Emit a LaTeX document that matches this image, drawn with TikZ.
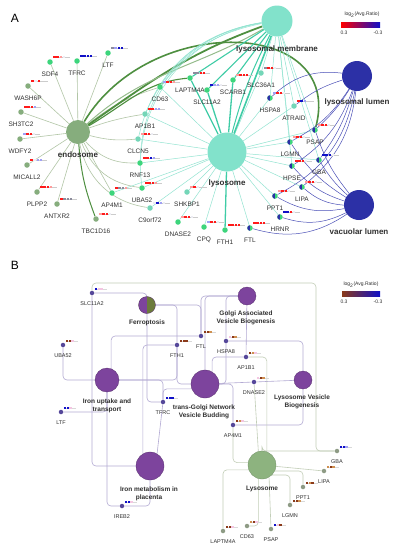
\documentclass[tikz,border=0pt]{standalone}
\usepackage{fontspec}
\setmainfont{Liberation Sans}
\usetikzlibrary{calc}
\pgfdeclarelayer{edges}
\pgfsetlayers{edges,main}
\definecolor{Turq}{HTML}{82E2CB}
\definecolor{TurqEdge}{HTML}{93E4D1}
\definecolor{TurqDark}{HTML}{3FCCA6}
\definecolor{Navy}{HTML}{2C30A6}
\definecolor{NavyEdge}{HTML}{4B50B8}
\definecolor{Sage}{HTML}{86AD7D}
\definecolor{SageEdge}{HTML}{B2C6A6}
\definecolor{DarkGreen}{HTML}{4E8F40}
\definecolor{GeneGreen}{HTML}{3DD57C}
\definecolor{GeneTeal}{HTML}{74D6B8}
\definecolor{Purple}{HTML}{7D449D}
\definecolor{Olive}{HTML}{6C7B3C}
\definecolor{GenePurple}{HTML}{55479A}
\definecolor{GeneGrey}{HTML}{8E9B85}
\definecolor{LysoGreen}{HTML}{8DB37F}
\definecolor{PurpleEdge}{HTML}{B3AAD3}
\definecolor{GreyEdge}{HTML}{C2CEB8}
\definecolor{DarkText}{HTML}{303030}
\definecolor{cR}{HTML}{FF1A1A}
\definecolor{cP}{HTML}{FF9C9C}
\definecolor{cW}{HTML}{EDEDF4}
\definecolor{cL}{HTML}{A0A0F4}
\definecolor{cB}{HTML}{1010C8}
\definecolor{cG}{HTML}{8C8C9C}
\definecolor{cBr}{HTML}{8B3A1A}
\definecolor{cT}{HTML}{CF9050}
\definecolor{cK}{HTML}{F4C6E2}
\tikzset{
  term/.style={circle, inner sep=0pt},
  gene/.style={circle, inner sep=0pt, minimum size=5.5pt},
  ggene/.style={gene, fill=GeneGreen},
  tgene/.style={gene, fill=GeneTeal},
  sgene/.style={gene, fill=Sage},
  pie/.style={gene, fill=GeneGreen, path picture={\fill[Navy] (path picture bounding box.north west) rectangle (path picture bounding box.south);}},
  pgene/.style={gene, minimum size=4.5pt, fill=GenePurple},
  ygene/.style={gene, minimum size=4.5pt, fill=GeneGrey},
  lab/.style={font=\fontsize{6.5}{7}\selectfont, text=DarkText, inner sep=0pt},
  blab/.style={font=\fontsize{5.5}{6}\selectfont, text=DarkText, inner sep=0pt},
  tlab/.style={font=\fontsize{8}{9}\selectfont\bfseries, text=DarkText, inner sep=0pt},
  btlab/.style={font=\fontsize{6.5}{8.3}\selectfont\bfseries, text=DarkText, inner sep=0pt, align=center},
  leg/.style={font=\fontsize{5}{6}\selectfont, text=DarkText, inner sep=0pt},
  panel/.style={font=\fontsize{12}{14}\selectfont, inner sep=0pt},
  tedge/.style={draw=TurqEdge, line width=0.5pt},
  sedge/.style={draw=SageEdge, line width=0.6pt},
  dgedge/.style={draw=DarkGreen, line width=1.5pt},
  nedge/.style={draw=NavyEdge, line width=0.5pt},
  bedge/.style={draw=PurpleEdge, line width=0.6pt, rounded corners=4pt},
  gedge/.style={draw=GreyEdge, line width=0.6pt, rounded corners=4pt}
}
\newcommand{\hmap}[2]{%
  \draw[black!20, line width=0.3pt] ($(#1)+(3.2,-5.2)$) -- ++(17,0);
  \foreach \col [count=\idx] in {#2}
    \fill[\col] ($(#1)+(\idx*3.2,-6.5)$) rectangle ++(2.6,2.6);
}
\newcommand{\hmapb}[2]{%
  \draw[black!15, line width=0.3pt] ($(#1)+(2.8,-3.9)$) -- ++(12,0);
  \foreach \col [count=\idx] in {#2}
    \fill[\col] ($(#1)+(\idx*2.8,-5)$) rectangle ++(2.2,2.2);
}

\begin{document}
\begin{tikzpicture}[x=1pt,y=-1pt]
\begin{pgfonlayer}{edges}
\fill[white] (0,0) rectangle (395,550);
\end{pgfonlayer}
\useasboundingbox (0,0) rectangle (395,550);

% panel A
\node[panel] (pa) at (15,18) {A};
\node[term, fill=Turq, minimum size=31pt] (lysomem) at (277,21) {};
\node[term, fill=Navy, minimum size=30pt] (lyslum) at (357,76) {};
\node[term, fill=Navy, minimum size=30pt] (vaclum) at (359,205) {};
\node[term, fill=Turq, minimum size=39pt] (lyso) at (227,152) {};
\node[term, fill=Sage, minimum size=24pt] (endo) at (78,132) {};
\node[tlab] (lysomem-t) at (277,49) {lysosomal membrane};
\node[tlab] (lyslum-t) at (357,102) {lysosomal lumen};
\node[tlab] (vaclum-t) at (359,232) {vacuolar lumen};
\node[tlab] (lyso-t) at (227,183) {lysosome};
\node[tlab] (endo-t) at (78,155) {endosome};

\foreach \n/\x/\y/\t/\s in {sdf/50/62/SDF4/ggene, tfrc/77/61/TFRC/ggene, ltf/108/53/LTF/ggene,
  wash/28/86/WASH6P/sgene, sh3/21/112/SH3TC2/sgene, wdfy/20/139/WDFY2/sgene,
  mical/27/165/MICALL2/sgene, plpp/37/192/PLPP2/sgene, antx/57/204/ANTXR2/sgene,
  tbc/96/219/TBC1D16/sgene, ap4/112/193/AP4M1/ggene, cd63/160/87/CD63/ggene,
  ap1b1/145/114/AP1B1/tgene, clcn5/138/139/CLCN5/tgene, rnf13/140/163/RNF13/ggene,
  uba52/142/188/UBA52/ggene, c9/150/208/C9orf72/tgene, shkbp1/187/192/SHKBP1/tgene,
  dnase/178/222/DNASE2/ggene, cpq/204/227/CPQ/ggene, fth1/225/230/FTH1/ggene,
  ftl/250/228/FTL/pie, laptm/190/78/LAPTM4A/ggene, slc11/207/90/SLC11A2/ggene,
  scarb/233/80/SCARB1/ggene, slc36/261/73/SLC36A1/tgene, hspa8/270/98/HSPA8/pie,
  atraid/294/106/ATRAID/tgene, psap/315/130/PSAP/pie, lgmn/290/142/LGMN/pie,
  hpse/292/166/HPSE/pie, gba/319/160/GBA/pie, lipa/302/187/LIPA/pie,
  ppt1/275/196/PPT1/pie, hrnr/280/217/HRNR/pie}{
  \node[\s] (\n) at (\x,\y) {};
  \node[lab] (\n-t) at (\x,\y+12.5) {\t};
}

\begin{pgfonlayer}{edges}
\foreach \g in {sdf,tfrc,ltf,wash,sh3,wdfy,mical,plpp,antx,ap4}
  \draw[sedge] (endo) -- (\g);
\foreach \g/\b in {cd63/10,ap1b1/5,clcn5/-10,rnf13/-25,uba52/-30,c9/-35}
  \draw[sedge] (endo) to[bend left=\b] (\g);
\draw[dgedge, line width=1pt] (endo) to[bend right=8] (tbc);
\draw[dgedge, line width=1.8pt] (endo) to[out=35,in=200] (lysomem);
\draw[dgedge, draw=DarkGreen!60, line width=1pt] (endo) to[out=42,in=210] (lysomem);
\draw[dgedge, line width=1.1pt] (endo) to[out=30,in=185] (laptm);
\draw[dgedge, line width=1.6pt] (endo) .. controls (150,12) and (345,18) .. (psap);
\foreach \g in {cd63,ap1b1,clcn5,rnf13,uba52,c9,shkbp1,dnase,cpq,ftl,hrnr,ppt1,lipa,hpse,lgmn,psap,gba,atraid,hspa8,slc36,ap4}
  \draw[tedge] (lyso) -- (\g);
\foreach \g in {laptm,slc11,scarb,fth1}
  \draw[tedge, draw=TurqDark, line width=1.3pt] (lyso) -- (\g);
\draw[tedge, draw=TurqDark, line width=1.6pt] (lysomem) -- (lyso);
\draw[tedge, draw=TurqDark, line width=1pt] (lysomem) to[bend right=6] (lyso);
\foreach \g in {laptm,slc11,scarb}
  \draw[tedge, draw=TurqDark, line width=1.1pt] (lysomem) -- (\g);
\foreach \g in {slc36,hspa8,atraid,psap,lgmn,hpse,gba}
  \draw[tedge] (lysomem) -- (\g);
\foreach \g/\b in {cd63/20,ap1b1/28,clcn5/34,rnf13/40,uba52/44}
  \draw[tedge] (lysomem) to[bend right=\b] (\g);
\foreach \g/\b in {psap/10,lgmn/12,gba/8,hpse/15,lipa/18,ppt1/20,hrnr/22,ftl/25}
  \draw[nedge] (vaclum) to[bend left=\b] (\g);
\foreach \g/\b in {psap/8,lgmn/14,gba/10,hpse/18,lipa/22,ppt1/26}
  \draw[nedge] (lyslum) to[bend left=\b] (\g);
\draw[nedge] (lyslum) to[bend right=25] (hspa8);
\draw[nedge] (lyslum) to[bend right=10] (atraid);
\end{pgfonlayer}

\hmap{sdf}{cR,cR,cP,cW}
\hmap{tfrc}{cB,cB,cB,cB}
\hmap{ltf}{cG,cL,cB,cB}
\hmap{wash}{cR,cW,cR}
\hmap{sh3}{cR,cR,cR,cL}
\hmap{wdfy}{cL,cR,cR,cW}
\hmap{mical}{cR,cW,cL,cL}
\hmap{plpp}{cR,cR,cR,cP}
\hmap{antx}{cR,cG,cG,cG}
\hmap{tbc}{cP,cR,cR,cW}
\hmap{ap4}{cR,cG,cG,cP}
\hmap{cd63}{cL,cR,cR,cP}
\hmap{ap1b1}{cR,cR,cL,cL}
\hmap{clcn5}{cP,cR,cR,cW}
\hmap{rnf13}{cR,cR,cB,cL}
\hmap{uba52}{cR,cR,cR,cP}
\hmap{c9}{cW,cB,cL,cW}
\hmap{shkbp1}{cP,cR,cW}
\hmap{dnase}{cP,cR,cR,cW}
\hmap{cpq}{cL,cR,cR,cW}
\hmap{fth1}{cR,cR,cR,cR}
\hmap{ftl}{cR,cR,cR,cR}
\hmap{laptm}{cG,cG,cR,cR}
\hmap{slc11}{cB,cL,cL,cW}
\hmap{scarb}{cP,cR,cR,cR}
\hmap{slc36}{cG,cR,cR,cW}
\hmap{hspa8}{cL,cR,cR,cW}
\hmap{atraid}{cR,cB,cL}
\hmap{psap}{cP,cR,cR,cW}
\hmap{lgmn}{cP,cR,cR,cW}
\hmap{hpse}{cR,cR,cR,cW}
\hmap{gba}{cB,cB,cB,cW}
\hmap{lipa}{cP,cR,cR,cW}
\hmap{ppt1}{cP,cR,cR,cW}
\hmap{hrnr}{cB,cB,cR,cW}

\node[leg] (lega) at (362,15) {log\textsubscript{2}(Avg.Ratio)};
\node[inner sep=0pt, minimum width=39pt, minimum height=5pt, left color=red, middle color=white, right color=cB] (bara) at (360.5,24.5) {};
\node[leg] (lega-lo) at (344,33) {0.3};
\node[leg] (lega-hi) at (378,33) {-0.3};

% panel B
\node[panel] (pb) at (15,265) {B};
\node[term, minimum size=17pt, fill=Olive, draw=Purple!70!black, line width=0.3pt,
  path picture={\fill[Purple] (path picture bounding box.north west) rectangle (path picture bounding box.south);}] (bferro) at (147,305) {};
\foreach \n/\x/\y/\d in {bgolgi/247/296/18, biron1/107/380/24, btgn/205/384/28, blvb/303/380/18, biron2/150/466/28}
  \node[term, fill=Purple, draw=Purple!70!black, line width=0.3pt, minimum size=\d pt] (\n) at (\x,\y) {};
\node[term, fill=LysoGreen, draw=LysoGreen!80!black, line width=0.3pt, minimum size=28pt] (blyso) at (262,465) {};
\node[btlab] (bferro-t) at (147,323) {Ferroptosis};
\node[btlab] (bgolgi-t) at (246,318) {Golgi Associated\\Vesicle Biogenesis};
\node[btlab] (biron1-t) at (107,406) {Iron uptake and\\transport};
\node[btlab] (btgn-t) at (204,412) {trans-Golgi Network\\Vesicle Budding};
\node[btlab] (blvb-t) at (302,402) {Lysosome Vesicle\\Biogenesis};
\node[btlab] (biron2-t) at (149,494) {Iron metabolism in\\placenta};
\node[btlab] (blyso-t) at (262,489) {Lysosome};

\foreach \n/\x/\y/\t/\s in {bslc/92/293/SLC11A2/pgene, buba/63/345/UBA52/pgene, bfth1/177/345/FTH1/pgene,
  bftl/201/336/FTL/pgene, bhspa8/226/341/HSPA8/pgene, bap1b1/246/357/AP1B1/pgene,
  bdnase/254/382/DNASE2/pgene, btfrc/163/402/TFRC/pgene, bltf/61/412/LTF/pgene,
  bireb/122/506/IREB2/pgene, bap4m1/233/425/AP4M1/pgene, bgba/337/451/GBA/ygene,
  blipa/324/471/LIPA/ygene, bppt1/303/487/PPT1/ygene, blgmn/290/505/LGMN/ygene,
  blapt/223/531/LAPTM4A/ygene, bcd63/247/526/CD63/ygene, bpsap/271/529/PSAP/ygene}{
  \node[\s] (\n) at (\x,\y) {};
  \node[blab] (\n-t) at (\x,\y+10.5) {\t};
}
\coordinate (bcorner) at (316,283);

\begin{pgfonlayer}{edges}
\draw[gedge] (bslc) |- (bcorner) |- (bgba);
\draw[bedge] (bslc) -| (bferro);
\draw[bedge] (bslc) |- (biron2);
\draw[bedge] (buba) |- (biron1);
\draw[bedge] (bltf) -| (biron1);
\draw[bedge] (biron1) |- (bireb);
\draw[bedge] (bireb) -| (biron2);
\draw[bedge] (btfrc) -- (biron2.60);
\draw[bedge] (bfth1) -| (biron2.120);
\draw[bedge] (bftl) -| (biron1.70);
\draw[bedge] (bfth1) |- (biron1);
\draw[bedge] (bfth1) |- (btgn);
\draw[bedge] (bferro) |- (btfrc);
\draw[bedge] (bferro) -| (bftl);
\draw[bedge] (bferro) -| (bfth1);
\draw[bedge] (biron1) -| (btfrc);
\draw[bedge] (btfrc) |- (btgn.200);
\draw[bedge] (bgolgi) -| (bhspa8);
\draw[bedge] (bgolgi) -- (bap1b1);
\draw[bedge] (bgolgi) -| (bftl);
\draw[bedge] (bgolgi) -| (btgn);
\draw[bedge] (bhspa8) |- (btgn);
\draw[bedge] (bap1b1) -| (btgn.60);
\draw[bedge] (bdnase) -- (btgn);
\draw[bedge] (btgn) -| (bap4m1);
\draw[bedge] (bhspa8) -| (blvb);
\draw[bedge] (bdnase) -- (blvb);
\draw[bedge] (bap4m1) -| (blvb);
\draw[gedge] (bap1b1) -| (blyso.70);
\draw[gedge] (bdnase) -- (blyso.105);
\draw[gedge] (bgba) -| (blyso);
\draw[gedge] (blyso) -- (blipa);
\draw[gedge] (blyso.-25) -| (bppt1);
\draw[gedge] (blyso.-45) -| (blgmn);
\draw[gedge] (blyso.-60) -- (bpsap);
\draw[gedge] (blyso.-105) |- (bcd63);
\draw[gedge] (blapt) |- (blyso.200);
\draw[gedge] (bap4m1) |- (blyso.170);
\end{pgfonlayer}

\hmapb{bslc}{cB,cK,cK}
\hmapb{buba}{cBr,cBr,cK}
\hmapb{bfth1}{cBr,cBr,cBr}
\hmapb{bftl}{cBr,cBr,cT}
\hmapb{bhspa8}{cK,cBr,cT}
\hmapb{bap1b1}{cBr,cT,cK}
\hmapb{bdnase}{cK,cBr,cT}
\hmapb{btfrc}{cB,cB,cB}
\hmapb{bltf}{cB,cB,cK}
\hmapb{bireb}{cB,cB,cK}
\hmapb{bap4m1}{cBr,cT,cK}
\hmapb{bgba}{cB,cB,cL}
\hmapb{blipa}{cT,cBr,cT}
\hmapb{bppt1}{cBr,cT,cBr}
\hmapb{blgmn}{cBr,cBr,cT}
\hmapb{blapt}{cBr,cBr,cK}
\hmapb{bcd63}{cT,cBr,cK}
\hmapb{bpsap}{cB,cK,cBr}

\node[leg] (legb) at (361,285) {log\textsubscript{2}(Avg.Ratio)};
\node[inner sep=0pt, minimum width=38pt, minimum height=5pt, left color=cBr, middle color=cK!40, right color=cB] (barb) at (361,293.5) {};
\node[leg] (legb-lo) at (344,302) {0.3};
\node[leg] (legb-hi) at (378,302) {-0.3};
\end{tikzpicture}
\end{document}
